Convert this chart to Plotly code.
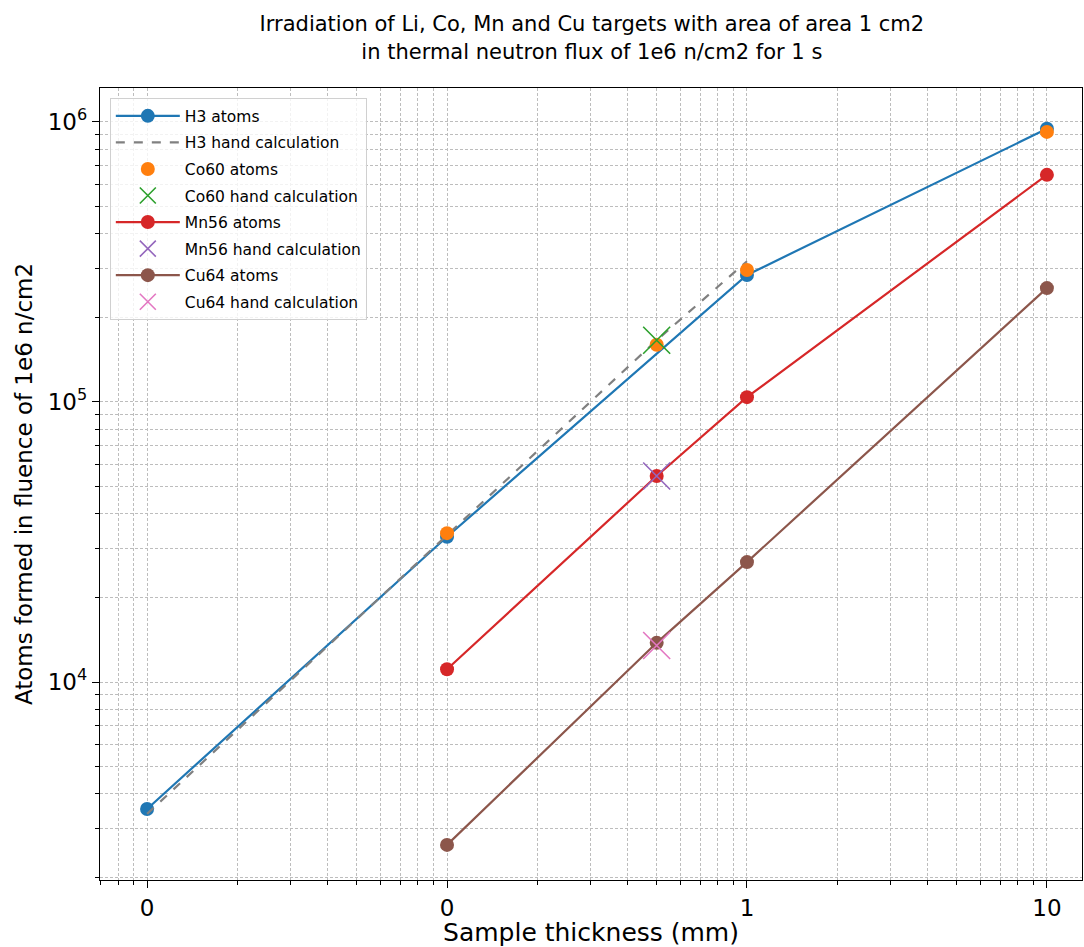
import plotly.graph_objects as go
import numpy as np

thickness_h3 = [0.01, 0.1, 1, 10]
h3_atoms = [3520, 33000, 284000, 945000]
h3_hand_x = [0.01, 0.1, 0.5, 1]
h3_hand = [3380, 33500, 166000, 318000]

thickness = [0.1, 0.5, 1, 10]
co60_atoms = [34000, 160000, 296000, 921000]
co60_hand_x = [0.5]
co60_hand = [166000]
mn56_atoms = [11100, 54400, 104000, 647000]
mn56_hand_x = [0.5]
mn56_hand = [54400]
cu64_atoms = [2620, 13800, 26800, 255000]
cu64_hand_x = [0.5]
cu64_hand = [13500]

x_tickvals = [0.01, 0.1, 1, 10]
x_ticktext = ["0", "0", "1", "10"]
y_tickvals = [1e4, 1e5, 1e6]
y_ticktext = ["10<sup>4</sup>", "10<sup>5</sup>", "10<sup>6</sup>"]

C = dict(blue="#1f77b4", orange="#ff7f0e", green="#2ca02c", red="#d62728",
         purple="#9467bd", brown="#8c564b", pink="#e377c2", gray="#808080")

fig = go.Figure()
fig.add_trace(go.Scatter(x=thickness_h3, y=h3_atoms, mode="lines+markers", name="H3 atoms", legendgroup="a",
                         line=dict(color=C["blue"], width=2.2), marker=dict(size=14, color=C["blue"])))
fig.add_trace(go.Scatter(x=h3_hand_x, y=h3_hand, mode="lines", name="H3 hand calculation", legendgroup="b",
                         line=dict(color=C["gray"], width=2.2, dash="dash")))
fig.add_trace(go.Scatter(x=thickness, y=co60_atoms, mode="markers", name="Co60 atoms", legendgroup="c",
                         marker=dict(size=14, color=C["orange"])))
fig.add_trace(go.Scatter(x=co60_hand_x, y=co60_hand, mode="markers", name="Co60 hand calculation", legendgroup="d",
                         marker=dict(size=27, color=C["green"], symbol="x-thin", line=dict(width=1.6, color=C["green"]))))
fig.add_trace(go.Scatter(x=thickness, y=mn56_atoms, mode="lines+markers", name="Mn56 atoms", legendgroup="e",
                         line=dict(color=C["red"], width=2.2), marker=dict(size=14, color=C["red"])))
fig.add_trace(go.Scatter(x=mn56_hand_x, y=mn56_hand, mode="markers", name="Mn56 hand calculation", legendgroup="f",
                         marker=dict(size=27, color=C["purple"], symbol="x-thin", line=dict(width=1.6, color=C["purple"]))))
fig.add_trace(go.Scatter(x=thickness, y=cu64_atoms, mode="lines+markers", name="Cu64 atoms", legendgroup="g",
                         line=dict(color=C["brown"], width=2.2), marker=dict(size=14, color=C["brown"])))
fig.add_trace(go.Scatter(x=cu64_hand_x, y=cu64_hand, mode="markers", name="Cu64 hand calculation", legendgroup="h",
                         marker=dict(size=27, color=C["pink"], symbol="x-thin", line=dict(width=1.6, color=C["pink"]))))

x_minor = [m * 10.0 ** d for d in range(-3, 2) for m in range(2, 10)]
y_minor = [m * 10.0 ** d for d in range(3, 7) for m in range(2, 10)]

grid_col = "#bdbdbd"
gd = "3px,2px"
fig.update_xaxes(type="log", range=[-2.157, 1.117], tickvals=x_tickvals, ticktext=x_ticktext,
                 ticks="outside", ticklen=7, tickwidth=1.2, tickcolor="black",
                 showgrid=True, gridcolor=grid_col, griddash=gd, gridwidth=0.9,
                 minor=dict(tickvals=x_minor, ticks="outside", ticklen=4, tickcolor="black",
                            showgrid=True, gridcolor=grid_col, griddash=gd, gridwidth=0.7),
                 showline=True, linecolor="black", linewidth=1.3, mirror=True,
                 tickfont=dict(size=23, color="black"), zeroline=False,
                 title=dict(text="Sample thickness (mm)", font=dict(size=25, color="black"), standoff=4))
fig.update_yaxes(type="log", range=[3.293, 6.121], tickvals=y_tickvals, ticktext=y_ticktext,
                 ticks="outside", ticklen=7, tickwidth=1.2, tickcolor="black",
                 showgrid=True, gridcolor=grid_col, griddash=gd, gridwidth=0.9,
                 minor=dict(tickvals=y_minor, ticks="outside", ticklen=4, tickcolor="black",
                            showgrid=True, gridcolor=grid_col, griddash=gd, gridwidth=0.7),
                 showline=True, linecolor="black", linewidth=1.3, mirror=True,
                 tickfont=dict(size=23, color="black"), zeroline=False,
                 title=dict(text="Atoms formed in fluence of 1e6 n/cm2", font=dict(size=23, color="black"), standoff=8))

fig.update_layout(
    width=1084, height=947,
    margin=dict(l=100, r=2, t=88, b=67),
    paper_bgcolor="white", plot_bgcolor="white",
    font=dict(family="DejaVu Sans", color="black"),
    title=dict(text="Irradiation of Li, Co, Mn and Cu targets with area of area 1 cm2<br>in thermal neutron flux of 1e6 n/cm2 for 1 s",
               x=0.546, xanchor="center", y=0.967, yanchor="top", font=dict(size=21, color="black")),
    legend=dict(x=0.01, y=0.987, xanchor="left", yanchor="top", bgcolor="rgba(255,255,255,0.8)",
                bordercolor="#d0d0d0", borderwidth=1, font=dict(size=15.5, color="black"),
                tracegroupgap=3.4, itemwidth=64),
    showlegend=True,
)

fig.write_html("out.html")
